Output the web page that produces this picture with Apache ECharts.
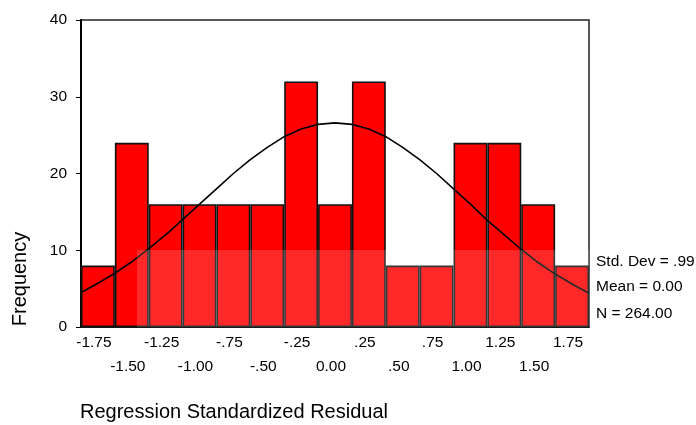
<!DOCTYPE html>
<html>
<head>
<meta charset="utf-8">
<script src="https://cdn.jsdelivr.net/npm/echarts@6/dist/echarts.min.js"></script>
<style>
  html, body { margin: 0; padding: 0; background: #fff; }
  #chart { width: 696px; height: 425px; }
</style>
</head>
<body>
<div id="chart"></div>
<script>
// histogram bins (centres) and counts
var binLabels = ['-1.75', '-1.50', '-1.25', '-1.00', '-.75', '-.50', '-.25', '0.00',
                 '.25', '.50', '.75', '1.00', '1.25', '1.50', '1.75'];
var counts = [8, 24, 16, 16, 16, 16, 32, 16, 32, 8, 8, 24, 24, 16, 8];

// normal curve
var curveX = [-1.875, -1.75, -1.625, -1.5, -1.375, -1.25, -1.125, -1.0, -0.875, -0.75, -0.625,
              -0.5, -0.375, -0.25, -0.125, 0, 0.125, 0.25, 0.375, 0.5, 0.625, 0.75, 0.875,
              1.0, 1.125, 1.25, 1.375, 1.5, 1.625, 1.75, 1.875];
var curveY = [4.5, 5.7, 7.0, 8.5, 10.2, 12.0, 14.0, 16.0, 18.0, 20.0, 21.8,
              23.4, 24.8, 25.8, 26.4, 26.6, 26.4, 25.8, 24.8, 23.4, 21.8, 20.0, 18.0,
              16.0, 13.9, 12.0, 10.1, 8.4, 6.9, 5.6, 4.4];

var statLines = ['Std. Dev = .99', 'Mean = 0.00', 'N = 264.00'];

var FONT = "'Liberation Sans', Arial, sans-serif";

var chart = echarts.init(document.getElementById('chart'));
var option;

var curveData = curveX.map(function (x, i) { return [x, curveY[i]]; });

option = {
    animation: false,
    backgroundColor: '#fff',
    grid: {
        left: 81,
        right: 107,
        top: 20,
        bottom: 98,
        show: true,
        borderColor: '#222',
        borderWidth: 1.5
    },
    xAxis: [
        {
            type: 'category',
            data: binLabels,
            boundaryGap: true,
            axisLine: { lineStyle: { color: '#000', width: 1.5 } },
            axisTick: { alignWithLabel: true, length: 5, lineStyle: { color: '#000' } },
            axisLabel: {
                interval: 0,
                color: '#000',
                fontSize: 15.5,
                fontFamily: FONT,
                margin: 4,
                lineHeight: 24,
                padding: [0, 8, 0, 0],
                formatter: function (v, i) { return i % 2 ? '\n' + v : v; }
            },
            splitLine: { show: false }
        },
        {
            type: 'value',
            min: -1.875,
            max: 1.875,
            show: false
        }
    ],
    yAxis: {
        type: 'value',
        min: 0,
        max: 40,
        interval: 10,
        axisLine: { show: true, onZero: false, lineStyle: { color: '#000', width: 2 } },
        axisTick: { show: true, length: 5, lineStyle: { color: '#000' } },
        axisLabel: { color: '#000', fontSize: 15.5, fontFamily: FONT, margin: 14 },
        splitLine: { show: false }
    },
    series: [
        {
            type: 'bar',
            data: counts,
            barCategoryGap: '0%',
            itemStyle: { color: '#ff0000', borderColor: '#111', borderWidth: 1.6 }
        },
        {
            type: 'line',
            xAxisIndex: 1,
            data: curveData,
            symbol: 'none',
            lineStyle: { color: '#000', width: 1.6 },
            z: 5
        }
    ],
    graphic: [
        {
            type: 'rect',
            left: 137, top: 250,
            shape: { width: 452, height: 77 },
            style: { fill: 'rgba(255,255,255,0.16)' },
            z: 100, silent: true
        },
        {
            type: 'text',
            x: 20, y: 279,
            rotation: Math.PI / 2,
            style: { text: 'Frequency', font: '20px ' + FONT, fill: '#000', align: 'center', verticalAlign: 'middle' }
        },
        {
            type: 'text',
            x: 80, y: 412,
            style: { text: 'Regression Standardized Residual', font: '20px ' + FONT, fill: '#000', align: 'left', verticalAlign: 'middle' }
        }
    ].concat(statLines.map(function (t, i) {
        return {
            type: 'text',
            x: 596, y: [262, 287, 314][i],
            style: { text: t, font: '15.5px ' + FONT, fill: '#000', align: 'left', verticalAlign: 'middle' }
        };
    }))
};

option && chart.setOption(option);
</script>
</body>
</html>
